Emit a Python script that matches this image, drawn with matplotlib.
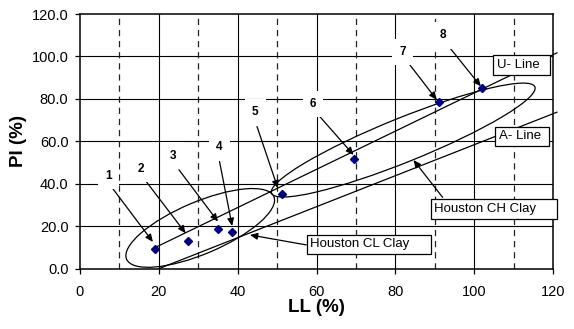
import matplotlib
matplotlib.use("Agg")
import matplotlib.pyplot as plt
import numpy as np
from matplotlib.patches import Ellipse, Rectangle
from matplotlib.transforms import ScaledTranslation

plt.rcParams['font.family'] = ['Liberation Sans', 'DejaVu Sans']
plt.rcParams['lines.scale_dashes'] = False

# ---- data ----
sample_ids = ['1', '2', '3', '4', '5', '6', '7', '8']
liquid_limit = [19.0, 27.3, 35.0, 38.6, 51.2, 69.4, 91.0, 102.0]
plasticity_index = [9.1, 13.1, 18.6, 17.2, 35.4, 51.7, 78.6, 85.1]

x_ticks = [0, 20, 40, 60, 80, 100, 120]
y_ticks = [0, 20, 40, 60, 80, 100, 120]

# reference lines (Casagrande chart)
u_line_ll = [18.6, 121.0]
a_line_ll = [20.0, 121.0]

# ---- annotation geometry ----
label_pos = [(7.2, 43.9), (15.5, 47.0), (23.6, 53.3), (35.4, 57.3),
             (44.5, 73.6), (59.1, 77.5), (81.8, 101.9), (92.0, 109.9)]
arrow_start = [(8.4, 37.5), (16.9, 40.8), (25.1, 46.6), (35.4, 50.5),
               (44.9, 67.0), (60.3, 72.8), (82.7, 98.4), (93.2, 105.5)]
arrow_end = [(18.5, 12.6), (26.8, 16.7), (35.0, 22.2), (38.6, 20.1),
             (50.2, 37.9), (69.4, 53.6), (90.5, 79.6), (101.7, 85.9)]

# text boxes: (text, x0, x1, y0, y1) in data units
boxes = [('U- Line', 104.9, 119.3, 91.3, 100.7),
         ('A- Line', 105.3, 118.9, 57.95, 66.9),
         ('Houston CH Clay', 89.0, 120.97, 23.3, 32.7),
         ('Houston CL Clay', 57.54, 89.0, 6.91, 15.87)]

fig = plt.figure(figsize=(5.74, 3.29), dpi=100)
ax = fig.add_axes([80 / 574, 1 - 268.67 / 329, 473 / 574, 254.67 / 329])

ax.set_xlim(0, 120)
ax.set_ylim(0, 120)

# grid
for v in [20, 40, 60, 80, 100]:
    ax.axhline(v, color='black', lw=0.8, zorder=1)
    ax.axvline(v, color='black', lw=0.8, zorder=1)
for v in [10, 30, 50, 70, 90, 110]:
    ax.axvline(v, color='#222222', lw=0.9, linestyle=(0, (4.5, 3.5)), zorder=1)

# ellipses (display-space size, data-space center)
def add_ellipse(center, w_px, h_px, angle):
    tr = fig.dpi_scale_trans + ScaledTranslation(center[0], center[1], ax.transData)
    e = Ellipse((0, 0), w_px / 100, h_px / 100, angle=angle, transform=tr,
                fill=False, edgecolor='black', lw=0.9, zorder=3, clip_on=False)
    ax.add_patch(e)

add_ellipse((30.5, 19.2), 160, 52, 23)   # Houston CL clay
add_ellipse((82.0, 60.6), 284, 44, 22)   # Houston CH clay

# U-line and A-line
u_x = np.array(u_line_ll)
a_x = np.array(a_line_ll)
ax.plot(u_x, 0.9 * (u_x - 8), color='black', lw=0.9, zorder=3, clip_on=False)
ax.plot(a_x, 0.73 * (a_x - 20), color='black', lw=0.9, zorder=3, clip_on=False)

# data points
ax.plot(liquid_limit, plasticity_index, linestyle='none', marker='D',
        markersize=4.3, color='#000080', zorder=5)

arrow_kw = dict(arrowstyle='-|>,head_length=0.45,head_width=0.2',
                mutation_scale=10, lw=0.9, color='black', shrinkA=0, shrinkB=0)

# arrows and number labels
for lab, lp, s, e in zip(sample_ids, label_pos, arrow_start, arrow_end):
    ax.annotate('', xy=e, xytext=s, arrowprops=arrow_kw, zorder=6)
    ax.text(lp[0], lp[1], lab, ha='center', va='center', fontsize=8.5,
            fontweight='bold', zorder=7,
            bbox=dict(boxstyle='square,pad=0.6', fc='white', ec='none'))

ax.annotate('', xy=(84.6, 51.2), xytext=(92.0, 33.6), arrowprops=arrow_kw, zorder=6)
ax.annotate('', xy=(43.1, 15.9), xytext=(57.4, 11.2), arrowprops=arrow_kw, zorder=6)

for txt, x0, x1, y0, y1 in boxes:
    ax.add_patch(Rectangle((x0, y0), x1 - x0, y1 - y0, fc='white', ec='black',
                           lw=0.9, zorder=8, clip_on=False))
    ax.text(x0 + 0.9, (y0 + y1) / 2, txt, ha='left', va='center',
            fontsize=9.5, zorder=9)

# axes styling
ax.set_xticks(x_ticks)
ax.set_yticks(y_ticks)
ax.set_xticklabels([str(v) for v in x_ticks])
ax.set_yticklabels([f'{v:.1f}' for v in y_ticks])
ax.tick_params(axis='both', direction='out', length=3.3, width=0.9,
               labelsize=10.5, colors='black')
ax.tick_params(axis='x', pad=8.5)
ax.tick_params(axis='y', pad=5)
for sp in ax.spines.values():
    sp.set_linewidth(1.1)
    sp.set_color('black')
    sp.set_zorder(4)

ax.set_xlabel('LL (%)', fontsize=13.5, fontweight='bold')
ax.set_ylabel('PI (%)', fontsize=13.5, fontweight='bold')
ax.xaxis.set_label_coords(0.5, -0.119)
ax.yaxis.set_label_coords(-0.112, 0.5)

fig.savefig('out.png', dpi=100)
